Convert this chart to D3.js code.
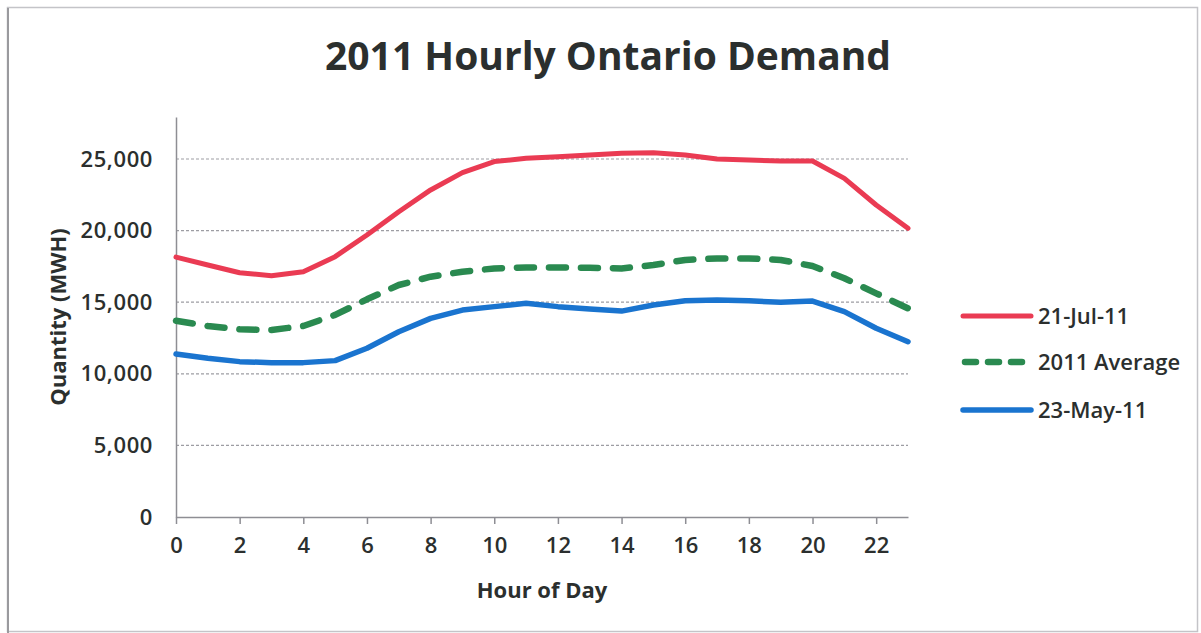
<!DOCTYPE html>
<html>
<head>
<meta charset="utf-8">
<script src="https://cdn.jsdelivr.net/npm/d3@7"></script>
<style>
  html, body { margin: 0; padding: 0; background: #fff; }
  svg { display: block; }
  text { font-family: "Open Sans", "DejaVu Sans", sans-serif; fill: #2b2f2e; }
</style>
</head>
<body>
<svg id="chart" width="1201" height="633"></svg>
<script>
// Hour of day (x categories)
const hours = [0, 1, 2, 3, 4, 5, 6, 7, 8, 9, 10, 11, 12, 13, 14, 15, 16, 17, 18, 19, 20, 21, 22, 23];

// Hourly demand, MWh
const jul21 = [18150, 17600, 17060, 16850, 17130, 18180, 19690, 21320, 22840, 24050, 24820, 25050,
               25160, 25280, 25400, 25440, 25280, 25000, 24930, 24860, 24860, 23650, 21790, 20160];
const avg2011 = [13710, 13340, 13110, 13060, 13340, 14110, 15200, 16200, 16780, 17130, 17360, 17430,
                 17430, 17400, 17360, 17600, 17950, 18060, 18060, 17950, 17530, 16670, 15620, 14570];
const may23 = [11380, 11080, 10850, 10780, 10780, 10920, 11780, 12940, 13870, 14450, 14690, 14920,
               14690, 14520, 14380, 14800, 15100, 15150, 15100, 14990, 15080, 14340, 13180, 12240];

const xTicks = [0, 2, 4, 6, 8, 10, 12, 14, 16, 18, 20, 22];
const yTicks = [0, 5000, 10000, 15000, 20000, 25000];

const seriesNames = ["21-Jul-11", "2011 Average", "23-May-11"];
const seriesValues = [jul21, avg2011, may23];
const seriesColors = ["#ea3b53", "#2a8a50", "#1a74cf"];

const svg = d3.select("#chart");

// outer frame
svg.append("rect")
  .attr("x", 7.5).attr("y", 7.5).attr("width", 1190).attr("height", 624)
  .attr("fill", "none").attr("stroke", "#c4c4c8").attr("stroke-width", 1.5);
svg.append("line")
  .attr("x1", 8).attr("x2", 8).attr("y1", 8).attr("y2", 633)
  .attr("stroke", "#9a9a9e").attr("stroke-width", 2);

const plot = { left: 176, right: 908, top: 117, bottom: 517 };

const x = d3.scaleLinear().domain([0, 23]).range([plot.left, plot.right]);
const y = d3.scaleLinear().domain([0, 25000]).range([plot.bottom, 159]);
const yTop = y.invert(plot.top);

// dashed horizontal gridlines
svg.append("g")
  .selectAll("line")
  .data(yTicks.filter(d => d > 0))
  .join("line")
  .attr("x1", plot.left).attr("x2", plot.right)
  .attr("y1", d => y(d)).attr("y2", d => y(d))
  .attr("stroke", "#9d9da3").attr("stroke-width", 1.2)
  .attr("stroke-dasharray", "3,2");

// y axis
const yAxis = svg.append("g")
  .attr("transform", `translate(${plot.left},0)`)
  .call(d3.axisLeft(y.copy().domain([0, yTop]).range([plot.bottom, plot.top]))
    .tickValues(yTicks).tickSize(0).tickPadding(23)
    .tickFormat(d3.format(",")));
yAxis.select(".domain").attr("stroke", "#8e8e94").attr("stroke-width", 1.5);
yAxis.selectAll("text")
  .style("font-size", "22px").style("font-weight", "600").style("letter-spacing", "0.6px")
  .attr("fill", "#2b2f2e");

// x axis
const xAxis = svg.append("g")
  .attr("transform", `translate(0,${plot.bottom})`)
  .call(d3.axisBottom(x).tickValues(xTicks).tickSize(7).tickPadding(13).tickSizeOuter(0));
xAxis.select(".domain").attr("stroke", "#8e8e94").attr("stroke-width", 1.5);
xAxis.selectAll(".tick line").attr("stroke", "#8e8e94").attr("stroke-width", 1.5);
xAxis.selectAll("text")
  .style("font-size", "22px").style("font-weight", "600")
  .attr("fill", "#2b2f2e");

// series lines
const line = d3.line()
  .x((d, i) => x(hours[i]))
  .y(d => y(d))
  .curve(d3.curveLinear);

const lineStyles = [
  { width: 5, dash: null },
  { width: 6.5, dash: "17,15" },
  { width: 5.5, dash: null }
];

seriesValues.forEach((vals, k) => {
  svg.append("path")
    .datum(vals)
    .attr("d", line)
    .attr("fill", "none")
    .attr("stroke", seriesColors[k])
    .attr("stroke-width", lineStyles[k].width)
    .attr("stroke-linecap", "round")
    .attr("stroke-linejoin", "round")
    .attr("stroke-dasharray", lineStyles[k].dash);
});

// title
svg.append("text")
  .attr("x", 608).attr("y", 70)
  .attr("text-anchor", "middle")
  .style("font-size", "39px").style("font-weight", "700")
  .attr("fill", "#2d3331")
  .text("2011 Hourly Ontario Demand");

// axis titles
svg.append("text")
  .attr("x", 542).attr("y", 598)
  .attr("text-anchor", "middle")
  .style("font-size", "22px").style("font-weight", "700")
  .text("Hour of Day");

svg.append("text")
  .attr("transform", "translate(66,317) rotate(-90)")
  .attr("text-anchor", "middle")
  .style("font-size", "22px").style("font-weight", "700")
  .text("Quantity (MWH)");

// legend
const legendRows = [316, 362, 410];
const legend = svg.append("g");
seriesNames.forEach((name, k) => {
  const g = legend.append("g").attr("transform", `translate(0,${legendRows[k]})`);
  g.append("line")
    .attr("x1", k === 1 ? 965 : 963).attr("x2", k === 1 ? 1022 : 1031)
    .attr("y1", 0).attr("y2", 0)
    .attr("stroke", seriesColors[k])
    .attr("stroke-width", lineStyles[k].width)
    .attr("stroke-linecap", "round")
    .attr("stroke-dasharray", k === 1 ? "11,12" : null);
  g.append("text")
    .attr("x", 1038).attr("y", 8)
    .style("font-size", "22px").style("font-weight", "600")
    .text(name);
});
</script>
</body>
</html>
